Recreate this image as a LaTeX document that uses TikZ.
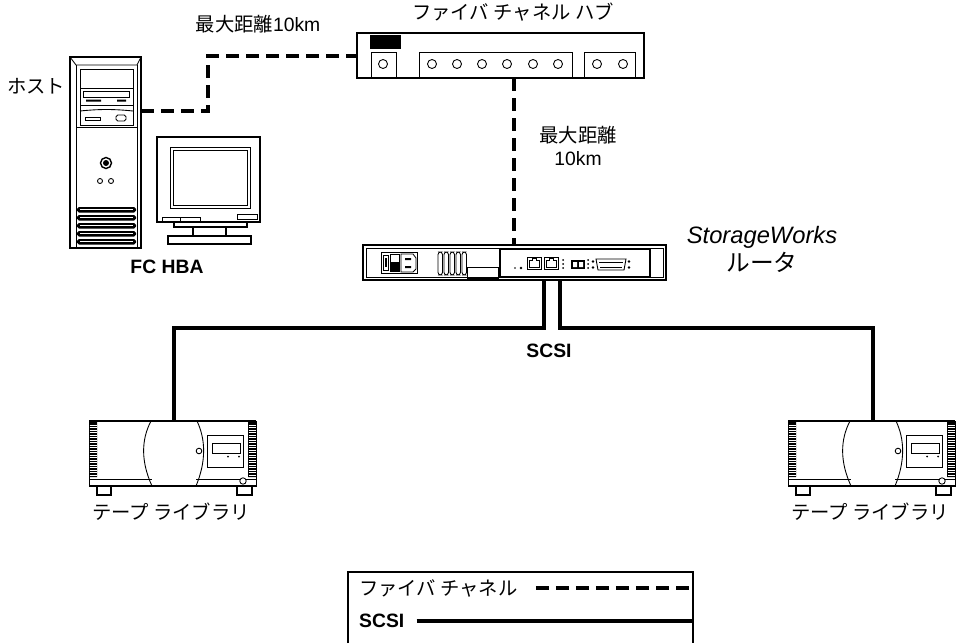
\documentclass[tikz,border=0pt]{standalone}
\usepackage{fontspec}
\setmainfont{Liberation Sans}
\newfontfamily\jp{Noto Sans CJK JP}
\usetikzlibrary{calc}

\begin{document}
\begin{tikzpicture}[x=0.2mm, y=-0.2mm,
  fc/.style={line width=2.8pt, dash pattern=on 7.4pt off 4pt},
  scsi/.style={line width=2.3pt},
  detail/.style={line width=0.5pt},
  frame/.style={line width=1.1pt},
  lbl/.style={font=\fontsize{11}{13}\selectfont}]
\useasboundingbox (0,0) rectangle (960,643);

% host tower
\draw[frame] (70,57) rectangle (141,248);
\draw[detail] (70,57) -- (76,65) -- (137,65) -- (141,57);
\draw[detail] (76,65) -- (76,248) (137,65) -- (137,248);
\draw[detail] (76,127) -- (137,127);
\draw[detail] (80,69) rectangle (133,125);
\draw[detail] (80,88) -- (133,88) (80,105) -- (133,105);
\draw[detail] (83,91) rectangle (129,97);
\fill (86,99.5) rectangle (101,101.5) (117,99.5) rectangle (126,101.5);
\draw[detail] (80,111) .. controls (100,109) and (113,109) .. (133,111);
\draw[detail] (85,117) rectangle (100,120);
\draw[detail, rounded corners=1pt] (116,115) rectangle (126,121);
\draw[line width=0.8pt] (106,163) circle (5.5);
\fill (106,163) circle (3);
\foreach \bx in {100,111} \draw[detail] (\bx,181) circle (2.5);
\foreach \vy in {207,215,223,231,239} {
  \fill[rounded corners=1pt] (77,\vy) rectangle (136,\vy+5.5);
  \draw[white, line width=0.4pt] (80,\vy+2.7) -- (133,\vy+2.7);
}
\coordinate (hostE) at (141,111);
\node[lbl, font=\jp\fontsize{11}{13}\selectfont] (host) at (36,86) {ホスト};
\node[lbl, font=\bfseries\fontsize{11}{13}\selectfont] (hba) at (167,267) {FC HBA};

% monitor
\draw[frame] (157,137) rectangle (260,222);
\draw[detail] (170,147) rectangle (250,208);
\draw[detail] (173,150) rectangle (247,205);
\draw[detail] (162,217) rectangle (200,221) (180,217) -- (180,221);
\draw[detail] (237,214) rectangle (257,219);
\draw[frame] (174,222) rectangle (247,227);
\draw[frame] (193,227) rectangle (226,236);
\draw[frame] (168,236) rectangle (251,244);

% hub
\draw[line width=1.3pt] (357,33) rectangle (644,78);
\fill (370,35) rectangle (401,49);
\draw[detail] (371,52) rectangle (396,78);
\draw[detail] (419,52) rectangle (572,78);
\draw[detail] (584,52) rectangle (635,78);
\foreach \px in {383,432,457,482,507,533,558,597,623}
  \draw[detail] (\px,64) circle (4.5);
\coordinate (hubW) at (357,56);
\coordinate (hubS) at (514,78);
\node[lbl, font=\jp\fontsize{11}{13}\selectfont] (hublbl) at (513,12) {ファイバ チャネル ハブ};

% router
\draw[frame] (363,245) rectangle (666,280);
\draw[detail] (366,248) rectangle (663,277);
\draw[detail] (381,252) rectangle (417,273);
\draw[detail] (383,255) rectangle (388,270);
\fill (384.5,258) rectangle (386.5,267);
\draw[detail] (390,254) rectangle (399,271);
\fill (390,262) rectangle (399,271);
\draw[detail] (401,254) -- (413,254) -- (416,258) -- (416,269) -- (413,272) -- (401,272) -- cycle;
\fill (405,258) rectangle (411,260) (405,266) rectangle (411,268);
\foreach \vx in {438,444,450,456,462}
  \draw[detail, rounded corners=1.5pt] (\vx,252) rectangle (\vx+4.5,275);
\draw[detail] (467,267) rectangle (498,278);
\draw[line width=0.7pt] (500,249) rectangle (650,277);
\fill (515,268) circle (0.9) (521,268) circle (1.3);
\foreach \rx in {527,544} {
  \draw[detail] (\rx,257) rectangle (\rx+14,269);
  \draw[detail] (\rx+2,267) -- (\rx+2,260) -- (\rx+5,260) -- (\rx+5,258.5) -- (\rx+9,258.5) -- (\rx+9,260) -- (\rx+12,260) -- (\rx+12,267) -- cycle;
}
\foreach \dy in {260,264,268} \fill (563,\dy) circle (1) (588,\dy) circle (1);
\fill (571,260) rectangle (585,269);
\fill[white] (573,262) rectangle (577,267) (579,262) rectangle (583,267);
\draw[detail] (596,259) -- (626,259) -- (624,270) -- (598,270) -- cycle;
\draw[detail] (599,262) -- (623,262) (600,267) -- (622,267);
\foreach \sx in {593,629} \fill (\sx,261.5) circle (1.3) (\sx,267.5) circle (1.3);
\coordinate (rtrN) at (514,245);
\coordinate (scsiA) at (544,280);
\coordinate (scsiB) at (560,280);
\node[font=\fontsize{13.5}{16}\selectfont, align=center] (rtrlbl) at (762,249)
  {\itshape StorageWorks\\ {\jp ルータ}};

% tape libraries
\foreach \dx/\nm in {0/L,699/R} {
\begin{scope}[shift={(\dx,0)}]
\draw[detail] (89,421) rectangle (256,486);
\draw[line width=1.6pt] (89,421) -- (256,421);
\fill (89,422) rectangle (97,477) (248,422) rectangle (256,477);
\foreach \h in {425,427.5,...,475}
  \draw[white, line width=0.35pt] (89.5,\h) -- (96.5,\h) (248.5,\h) -- (255.5,\h);
\draw[detail] (89,479) -- (152,479) (196,479) -- (256,479);
\draw[detail] (151,421) .. controls (141,440) and (141,462) .. (152,486);
\draw[detail] (197,421) .. controls (206,440) and (206,462) .. (196,486);
\draw[line width=1.2pt] (89,486) -- (256,486);
\draw[frame] (97,486) -- (97,495) -- (111,495) -- (111,486);
\draw[frame] (237,486) -- (237,495) -- (252,495) -- (252,486);
\draw[detail, fill=white] (199,451) circle (2.8);
\draw[detail] (207,435) rectangle (243,467);
\draw[detail] (212,443) rectangle (240,453);
\fill (228,456.5) circle (1) (239,456.5) circle (1);
\draw[detail, fill=white] (243,481) circle (3.2);
\coordinate (tape\nm) at (174,421);
\node[lbl, font=\jp\fontsize{11}{13}\selectfont] (tapelbl\nm) at (171,512) {テープ ライブラリ};
\end{scope}
}

% cables
\draw[fc] (hostE) -- ++(67,0) |- (hubW);
\draw[fc] (hubS) -- (rtrN);
\draw[scsi] (scsiA) -- ++(0,48) -| (tapeL);
\draw[scsi] (scsiB) -- ++(0,48) -| (tapeR);
\node[lbl, font=\jp\fontsize{11}{13}\selectfont] (dist1) at (258,24) {最大距離{\fontspec{Liberation Sans}10km}};
\node[lbl, font=\jp\fontsize{11}{13}\selectfont, align=center] (dist2) at (578,146)
  {最大距離\\ {\fontspec{Liberation Sans}10km}};
\node[lbl, font=\bfseries\fontsize{11}{13}\selectfont] (scsilbl) at (549,351) {SCSI};

% legend
\coordinate (lgR) at (693,572);
\draw[frame] (348,643) -- (348,572) -- (lgR) -- (693,643);
\node[lbl, font=\jp\fontsize{11}{13}\selectfont, anchor=west] (lgfc) at (353,588) {ファイバ チャネル};
\node[lbl, font=\bfseries\fontsize{11}{13}\selectfont, anchor=west] (lgscsi) at (353,621) {SCSI};
\draw[fc, line width=2.3pt] ($(lgfc.east)+(12,0)$) -- (lgfc.east -| lgR);
\draw[scsi] ($(lgscsi.east)+(6,0)$) -- (lgscsi.east -| lgR);
\end{tikzpicture}
\end{document}
